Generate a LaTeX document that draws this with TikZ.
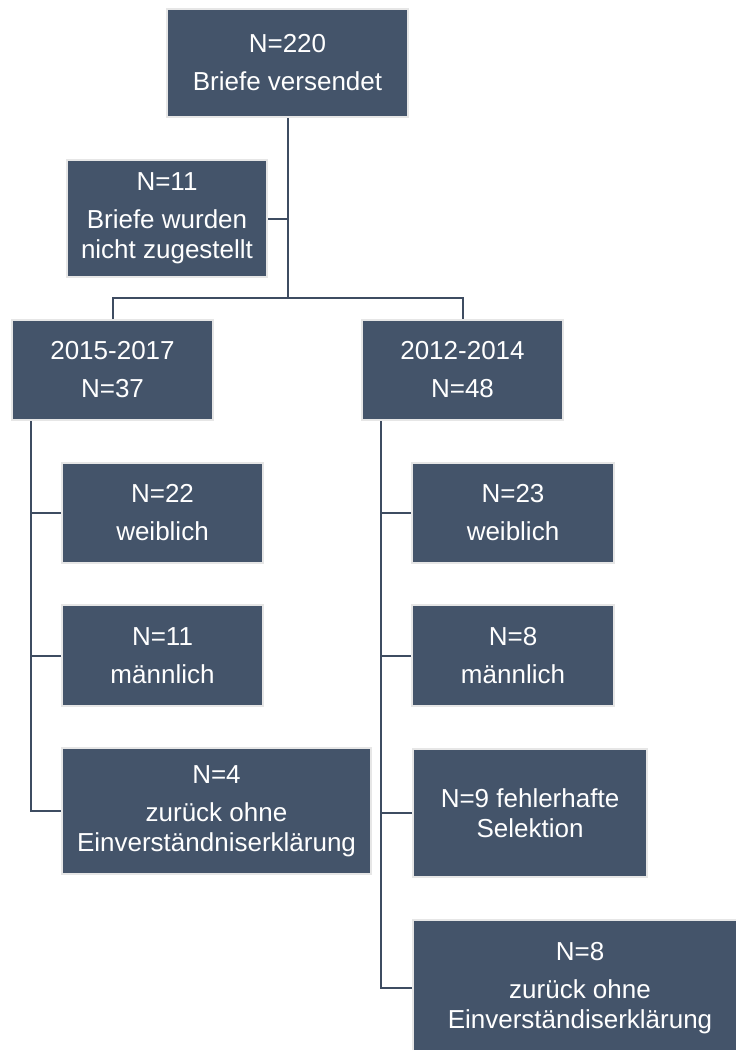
\documentclass[tikz,border=0pt]{standalone}
\usepackage{fontspec}
\setmainfont{Liberation Sans}
\definecolor{boxfill}{HTML}{44546A}
\definecolor{boxedge}{HTML}{E6E6E6}
\definecolor{linkline}{HTML}{3E4C61}
\begin{document}
\begin{tikzpicture}[x=1pt,y=-1pt,
  box/.style={rectangle, fill=boxfill, draw=boxedge, line width=2pt,
    text=white, font=\fontsize{26}{30}\selectfont, align=center, inner sep=0pt},
  link/.style={draw=linkline, line width=2pt}]
\useasboundingbox (0,0) rectangle (736,1050);

% top of the tree
\node[box, minimum width=241pt, minimum height=108pt] (sent) at (287.5,63) {N=220\\[8pt]Briefe versendet};
\node[box, minimum width=200pt, minimum height=117pt] (lost) at (167,218.5) {N=11\\[8pt]Briefe wurden\\nicht zugestellt};

% cohorts
\node[box, minimum width=201pt, minimum height=100pt] (c15) at (112.5,370) {2015-2017\\[8pt]N=37};
\node[box, minimum width=201pt, minimum height=100pt] (c12) at (462.5,370) {2012-2014\\[8pt]N=48};

% 2015-2017 branch
\node[box, minimum width=201pt, minimum height=100pt] (w15) at (162.5,513) {N=22\\[8pt]weiblich};
\node[box, minimum width=201pt, minimum height=101pt] (m15) at (162.5,655.5) {N=11\\[8pt]männlich};
\node[box, minimum width=309pt, minimum height=126pt] (r15) at (216.5,811) {N=4\\[8pt]zurück ohne\\Einverständniserklärung};

% 2012-2014 branch
\node[box, minimum width=202pt, minimum height=100pt] (w12) at (513,513) {N=23\\[8pt]weiblich};
\node[box, minimum width=202pt, minimum height=101pt] (m12) at (513,655.5) {N=8\\[8pt]männlich};
\node[box, minimum width=234pt, minimum height=128pt] (s12) at (530,813) {N=9 fehlerhafte\\Selektion};
\node[box, minimum width=334pt, minimum height=136pt] (r12) at (580,988) {N=8\\[8pt]zurück ohne\\Einverständiserklärung};

% connectors
\coordinate (split) at (287.5,298);
\draw[link] (sent.south) -- (split);
\draw[link] (lost.east) -- (lost.east -| split);
\draw[link] (c15.north) |- (split) -| (c12.north);

\coordinate (t15) at ([xshift=20pt]c15.south west);
\draw[link] (t15) |- (r15.west);
\draw[link] (w15.west) -- (w15.west -| t15);
\draw[link] (m15.west) -- (m15.west -| t15);

\coordinate (t12) at ([xshift=20pt]c12.south west);
\draw[link] (t12) |- (r12.west);
\draw[link] (w12.west) -- (w12.west -| t12);
\draw[link] (m12.west) -- (m12.west -| t12);
\draw[link] (s12.west) -- (s12.west -| t12);
\end{tikzpicture}
\end{document}
